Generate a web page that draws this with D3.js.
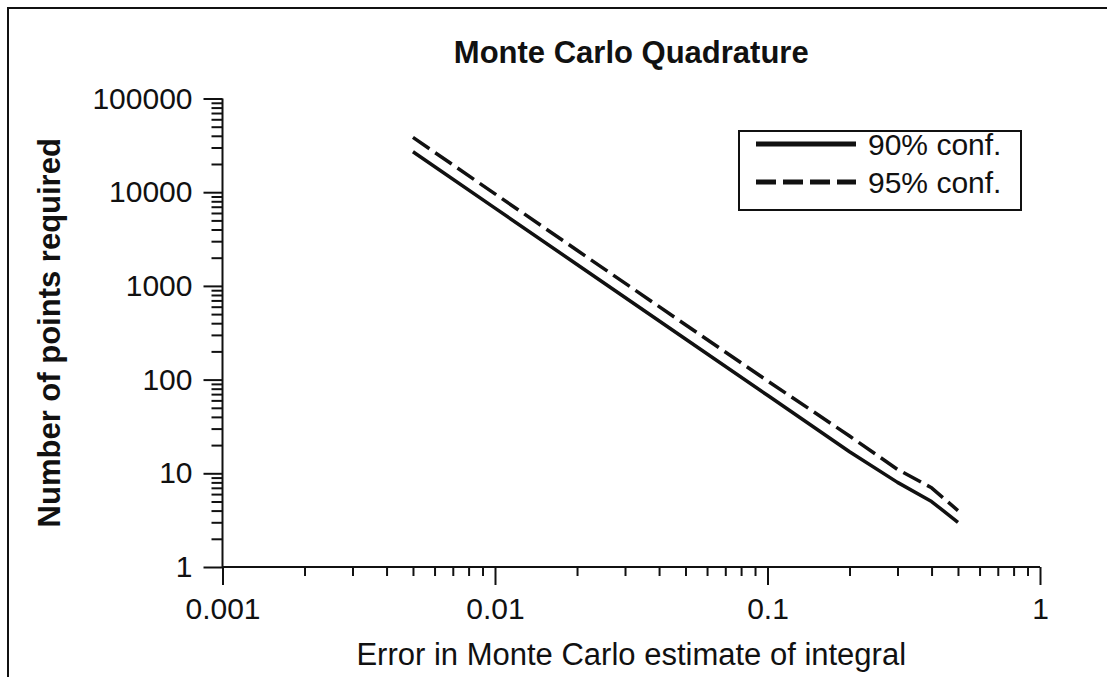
<!DOCTYPE html>
<html>
<head>
<meta charset="utf-8">
<script src="https://cdn.jsdelivr.net/npm/d3@7"></script>
<style>
  html, body { margin: 0; padding: 0; background: #fff; }
  svg { display: block; font-family: "Liberation Sans", Arial, Helvetica, sans-serif; }
</style>
</head>
<body>
<svg id="chart" width="1107" height="677"></svg>
<script>
// Error tolerance (x) and points required at each confidence level
const errors = [0.005, 0.01, 0.02, 0.05, 0.1, 0.2, 0.3, 0.4, 0.5];
const conf90 = [27061, 6766, 1692, 271, 68, 17, 8, 5, 3];
const conf95 = [38416, 9604, 2401, 385, 97, 25, 11, 7, 4];

const seriesNames = ["90% conf.", "95% conf."];
const xTickLabels = ["0.001", "0.01", "0.1", "1"];
const yTickLabels = ["1", "10", "100", "1000", "10000", "100000"];

const titleText = "Monte Carlo Quadrature";
const xTitle = "Error in Monte Carlo estimate of integral";
const yTitle = "Number of points required";

const svg = d3.select("#chart");
const ink = "#111";

// Outer frame (runs off the right and bottom edges)
svg.append("rect")
  .attr("x", 8).attr("y", 8)
  .attr("width", 1120).attr("height", 700)
  .attr("fill", "none").attr("stroke", ink).attr("stroke-width", 2);

const plot = { left: 222.5, right: 1040, top: 98.5, bottom: 567 };

const x = d3.scaleLog().domain([0.001, 1]).range([plot.left, plot.right]);
const y = d3.scaleLog().domain([1, 100000]).range([plot.bottom, plot.top]);

// Tick values: every 1..9 multiple in each decade
function logTicks(lo, hi) {
  const out = [];
  for (let e = Math.round(Math.log10(lo)); e < Math.round(Math.log10(hi)); e++) {
    for (let m = 1; m < 10; m++) out.push(+(m * Math.pow(10, e)).toPrecision(6));
  }
  out.push(hi);
  return out;
}
const isMajor = v => Math.abs(Math.log10(v) - Math.round(Math.log10(v))) < 1e-9;

// X axis
const xMajor = xTickLabels.map(Number);
const xAxis = d3.axisBottom(x)
  .tickValues(logTicks(0.001, 1))
  .tickSize(18).tickPadding(13)
  .tickFormat(v => isMajor(v) ? xTickLabels[xMajor.findIndex(m => Math.abs(m - v) < 1e-12)] : "");
const gx = svg.append("g").attr("transform", `translate(0,${plot.bottom})`).call(xAxis);
gx.select(".domain").attr("d", `M${plot.left},0H${plot.right}`);
gx.selectAll(".tick line").attr("y2", d => isMajor(d) ? 18 : 9);

// Y axis
const yMajor = yTickLabels.map(Number);
const yAxis = d3.axisLeft(y)
  .tickValues(logTicks(1, 100000))
  .tickSize(19).tickPadding(11)
  .tickFormat(v => isMajor(v) ? yTickLabels[yMajor.findIndex(m => Math.abs(m - v) < 1e-9)] : "");
const gy = svg.append("g").attr("transform", `translate(${plot.left},0)`).call(yAxis);
gy.select(".domain").attr("d", `M0,${plot.top}V${plot.bottom}`);
gy.selectAll(".tick line").attr("x2", d => isMajor(d) ? -19 : -11);

[gx, gy].forEach(g => {
  g.attr("font-family", null).attr("font-size", null);
  g.selectAll("text").attr("font-size", 30).attr("fill", ink);
  g.selectAll("line, .domain").attr("stroke", ink).attr("stroke-width", 2);
});

// Titles
svg.append("text")
  .attr("x", (plot.left + plot.right) / 2).attr("y", 63)
  .attr("text-anchor", "middle").attr("font-size", 31).attr("font-weight", "bold")
  .attr("fill", ink).text(titleText);

svg.append("text")
  .attr("x", (plot.left + plot.right) / 2).attr("y", 665)
  .attr("text-anchor", "middle").attr("font-size", 31)
  .attr("fill", ink).text(xTitle);

svg.append("text")
  .attr("transform", `translate(60,${(plot.top + plot.bottom) / 2}) rotate(-90)`)
  .attr("text-anchor", "middle").attr("font-size", 31).attr("font-weight", "bold")
  .attr("fill", ink).text(yTitle);

// Curves
const series = [
  { name: seriesNames[0], values: conf90, dash: null },
  { name: seriesNames[1], values: conf95, dash: "20,7" }
];
const line = d3.line().x(d => x(d[0])).y(d => y(d[1]));

series.forEach(s => {
  svg.append("path")
    .datum(errors.map((e, i) => [e, s.values[i]]))
    .attr("d", line)
    .attr("fill", "none")
    .attr("stroke", ink)
    .attr("stroke-width", 3.5)
    .attr("stroke-linejoin", "round")
    .attr("stroke-dasharray", s.dash);
});

// Legend
const legend = svg.append("g");
legend.append("rect")
  .attr("x", 739).attr("y", 131).attr("width", 282).attr("height", 79)
  .attr("fill", "#fff").attr("stroke", ink).attr("stroke-width", 2);
series.forEach((s, i) => {
  const cy = 144 + i * 38;
  legend.append("line")
    .attr("x1", 756).attr("x2", 856).attr("y1", cy).attr("y2", cy)
    .attr("stroke", ink).attr("stroke-width", 5)
    .attr("stroke-dasharray", s.dash);
  legend.append("text")
    .attr("x", 868).attr("y", cy + 11)
    .attr("font-size", 30).attr("fill", ink).text(s.name);
});
</script>
</body>
</html>
